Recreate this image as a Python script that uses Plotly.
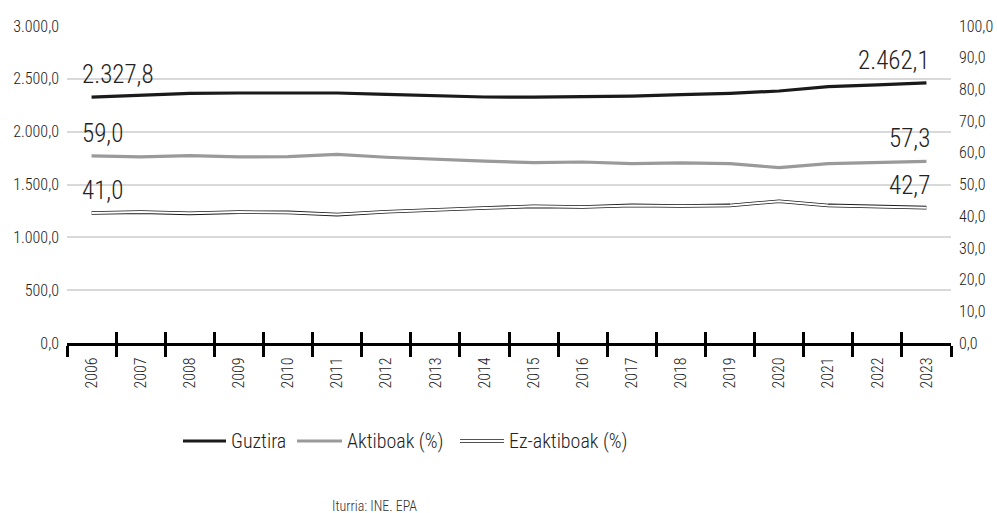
import plotly.graph_objects as go

years = [str(y) for y in range(2006, 2024)]
guztira = [2327.8, 2347, 2363, 2366, 2366, 2366, 2353, 2337, 2328, 2326,
           2328, 2337, 2350, 2363, 2385, 2426, 2442, 2462.1]
aktiboak = [59.0, 58.7, 59.1, 58.7, 58.8, 59.5, 58.6, 57.9, 57.4, 56.9,
            57.1, 56.6, 56.8, 56.6, 55.3, 56.6, 56.9, 57.3]
ez_aktiboak = [41.0, 41.3, 40.9, 41.3, 41.2, 40.5, 41.4, 42.1, 42.6, 43.1,
               42.9, 43.4, 43.2, 43.4, 44.7, 43.4, 43.1, 42.7]

FONT = "Roboto Condensed, Roboto, sans-serif"
W, H = 997, 513
L, R, T, B = 67, 46, 26, 170


def px(x, y):
    """pixel -> paper coords"""
    return (x - L) / (W - L - R), (H - B - y) / (H - T - B)


def eu(v, thousands=False):
    s = f"{v:,.1f}" if thousands else f"{v:.1f}"
    return s.replace(",", "X").replace(".", ",").replace("X", ".")


fig = go.Figure()
fig.add_trace(go.Scatter(x=years, y=guztira, mode="lines", name="Guztira",
                         line=dict(color="#1a1a1a", width=3.2), yaxis="y"))
fig.add_trace(go.Scatter(x=years, y=aktiboak, mode="lines", name="Aktiboak (%)",
                         line=dict(color="#9a9a9a", width=3.2), yaxis="y2"))
fig.add_trace(go.Scatter(x=years, y=ez_aktiboak, mode="lines", name="Ez-aktiboak (%)",
                         line=dict(color="#1a1a1a", width=3.6), yaxis="y2"))
fig.add_trace(go.Scatter(x=years, y=ez_aktiboak, mode="lines", showlegend=False,
                         line=dict(color="white", width=2), yaxis="y2"))
# invisible trace to carry the inner tick axis
fig.add_trace(go.Scatter(x=years, y=guztira, mode="lines", showlegend=False,
                         line=dict(width=0), opacity=0, xaxis="x2", hoverinfo="skip"))

# first / last value labels
lab_font = dict(family=FONT, size=25, color="#222", weight=300)
for series, yref, th in [(guztira, "y", True), (aktiboak, "y2", False),
                         (ez_aktiboak, "y2", False)]:
    for i, anchor, shift in [(0, "left", -12), (len(years) - 1, "right", 6)]:
        fig.add_annotation(x=i, y=series[i], xref="x", yref=yref, text=eu(series[i], th),
                           showarrow=False, xanchor=anchor, yanchor="bottom",
                           xshift=shift, yshift=6, font=lab_font)

# manual legend (double line for Ez-aktiboak)
legend_items = [
    ("Guztira", 183, 226, "#1a1a1a", None),
    ("Aktiboak (%)", 297, 342, "#9a9a9a", None),
    ("Ez-aktiboak (%)", 460, 504, "#1a1a1a", "white"),
]
ly = 441
for name, x0, x1, col, inner in legend_items:
    p0 = px(x0, ly)
    p1 = px(x1, ly)
    fig.add_shape(type="line", xref="paper", yref="paper", x0=p0[0], x1=p1[0],
                  y0=p0[1], y1=p1[1], line=dict(color=col, width=3.6 if inner else 3.2))
    if inner:
        fig.add_shape(type="line", xref="paper", yref="paper", x0=p0[0], x1=p1[0],
                      y0=p0[1], y1=p1[1], line=dict(color=inner, width=2))
    tx = px(x1 + 3, ly)
    fig.add_annotation(xref="paper", yref="paper", x=tx[0], y=tx[1], text=name,
                       showarrow=False, xanchor="left", yanchor="middle",
                       font=dict(family=FONT, size=20, color="#222", weight=300))

sx, sy = px(374, 506)
fig.add_annotation(xref="paper", yref="paper", x=sx, y=sy, text="Iturria: INE. EPA",
                   showarrow=False, xanchor="center", yanchor="middle",
                   font=dict(family=FONT, size=14, color="#333", weight=300))

tick_font = dict(family=FONT, size=16, color="#222", weight=300)
axis_common = dict(type="category", showgrid=False, zeroline=False,
                   tickson="boundaries", ticklen=11, tickwidth=2.5, tickcolor="black")
fig.update_layout(
    width=W, height=H,
    margin=dict(l=L, r=R, t=T, b=B),
    plot_bgcolor="white", paper_bgcolor="white",
    separators=",.",
    showlegend=False,
    font=dict(family=FONT, color="#333"),
    xaxis=dict(**axis_common, ticks="outside", showline=True, linecolor="black",
               linewidth=3, tickangle=-90, tickfont=tick_font, automargin=False,
               ticklabelstandoff=5, range=[-0.5, len(years) - 0.5]),
    xaxis2=dict(**axis_common, ticks="inside", overlaying="x", matches="x",
                side="bottom", showticklabels=False, showline=False),
    yaxis=dict(range=[0, 3000], dtick=500, tickformat=",.1f", showgrid=True,
               gridcolor="#d9d9d9", gridwidth=1.5, zeroline=False, showline=False,
               tickfont=tick_font, ticks="", ticklabelstandoff=7, automargin=False),
    yaxis2=dict(range=[0, 100], dtick=10, tickformat=".1f", overlaying="y",
                side="right", showgrid=False, zeroline=False, showline=False,
                tickfont=tick_font, ticks="", ticklabelstandoff=7, automargin=False),
)

fig.write_html("out.html", config={"displayModeBar": False},
               post_script="document.body.style.margin='0';")
